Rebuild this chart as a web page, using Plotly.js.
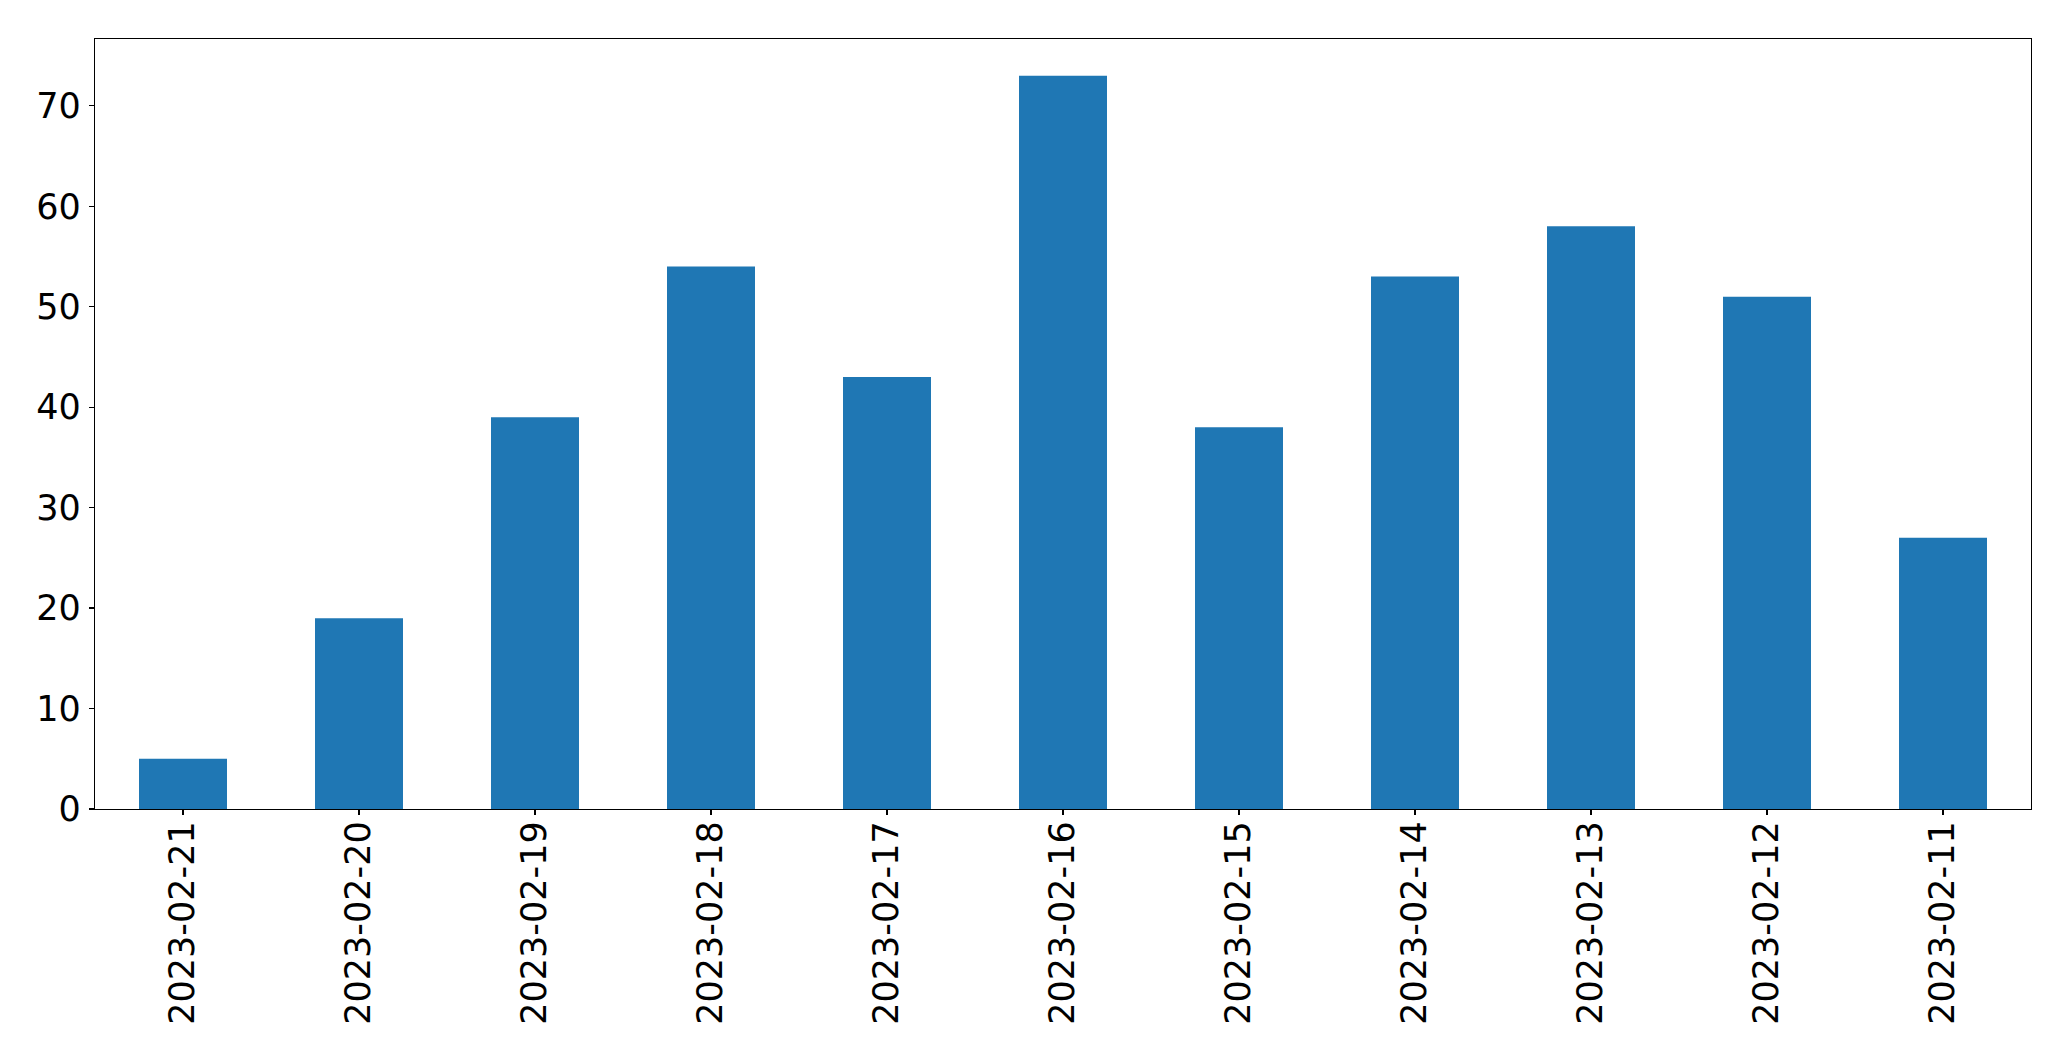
<!DOCTYPE html>
<html>
<head>
<meta charset="utf-8">
<script src="https://cdn.plot.ly/plotly-3.0.1.min.js"></script>
<style>html,body{margin:0;padding:0;background:#fff;}#chart{width:2071px;height:1061px;}</style>
</head>
<body>
<div id="chart"></div>
<script>
const categories = ["2023-02-21","2023-02-20","2023-02-19","2023-02-18","2023-02-17","2023-02-16","2023-02-15","2023-02-14","2023-02-13","2023-02-12","2023-02-11"];
const values = [5, 19, 39, 54, 43, 73, 38, 53, 58, 51, 27];
const yTicks = [0, 10, 20, 30, 40, 50, 60, 70];

const trace = {
  type: 'bar',
  x: categories,
  y: values,
  width: 0.5,
  marker: {color: '#1f77b4', line: {width: 0}},
  hoverinfo: 'x+y'
};

const axisFont = {family: 'DejaVu Sans', size: 35, color: '#000'};

const layout = {
  width: 2071,
  height: 1061,
  margin: {l: 94.5, r: 39.5, t: 39, b: 252, pad: 0},
  paper_bgcolor: '#fff',
  plot_bgcolor: '#fff',
  showlegend: false,
  bargap: 0.5,
  xaxis: {
    type: 'category',
    range: [-0.5, 10.5],
    tickangle: -90,
    tickfont: axisFont,
    ticks: 'outside',
    ticklen: 5,
    tickwidth: 1.2,
    tickcolor: '#000',
    showline: true,
    linecolor: '#000',
    linewidth: 1.3,
    mirror: true,
    showgrid: false,
    zeroline: false,
    ticklabelstandoff: -8
  },
  yaxis: {
    range: [0, 76.65],
    tickvals: yTicks,
    ticktext: yTicks.map(String),
    tickfont: axisFont,
    ticks: 'outside',
    ticklen: 5,
    tickwidth: 1.2,
    tickcolor: '#000',
    showline: true,
    linecolor: '#000',
    linewidth: 1.3,
    mirror: true,
    showgrid: false,
    zeroline: false,
    ticklabelstandoff: 1
  }
};

Plotly.newPlot('chart', [trace], layout, {displayModeBar: false, staticPlot: true});
</script>
</body>
</html>
